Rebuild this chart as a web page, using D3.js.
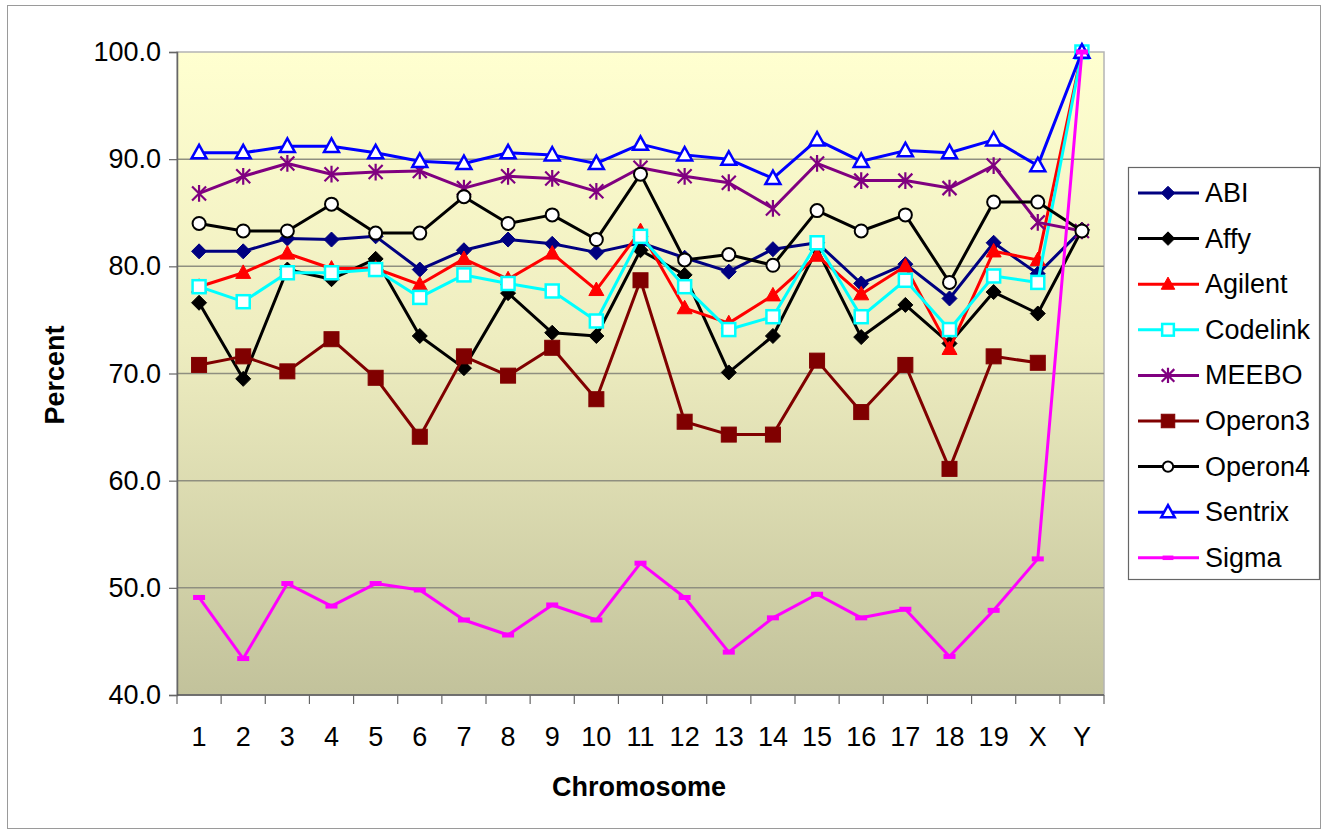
<!DOCTYPE html>
<html>
<head>
<meta charset="utf-8">
<script src="https://cdn.jsdelivr.net/npm/d3@7"></script>
<style>
  html, body { margin: 0; padding: 0; background: #fff; }
  svg { display: block; font-family: "Liberation Sans", Arial, sans-serif; }
</style>
</head>
<body>
<svg id="chart" width="1327" height="834"></svg>
<script>
// Chromosome categories
const chromosomes = ["1","2","3","4","5","6","7","8","9","10","11","12","13","14","15","16","17","18","19","X","Y"];

// Percent values per platform, one per chromosome (null = no value)
const ABI      = [81.4,81.4,82.6,82.5,82.8,79.7,81.5,82.5,82.1,81.3,82.2,80.8,79.5,81.6,82.2,78.4,80.2,77.0,82.2,79.3,83.4];
const Affy     = [76.6,69.5,79.7,78.8,80.7,73.5,70.5,77.5,73.8,73.5,81.5,79.2,70.1,73.5,81.6,73.4,76.4,72.8,77.6,75.6,83.4];
const Agilent  = [78.1,79.4,81.2,79.8,79.8,78.3,80.7,78.8,81.2,77.8,83.3,76.1,74.7,77.3,81.0,77.4,80.0,72.3,81.4,80.6,100.0];
const Codelink = [78.1,76.7,79.4,79.4,79.7,77.1,79.2,78.4,77.7,74.9,82.8,78.1,74.1,75.3,82.2,75.3,78.7,74.1,79.1,78.5,100.0];
const MEEBO    = [86.8,88.4,89.6,88.6,88.8,88.9,87.3,88.4,88.2,87.0,89.2,88.4,87.8,85.4,89.6,88.0,88.0,87.3,89.4,84.1,83.3];
const Operon3  = [70.8,71.6,70.2,73.2,69.6,64.1,71.6,69.8,72.4,67.6,78.7,65.5,64.3,64.3,71.2,66.4,70.8,61.1,71.6,71.0,null];
const Operon4  = [84.0,83.3,83.3,85.8,83.1,83.1,86.5,84.0,84.8,82.5,88.6,80.6,81.1,80.1,85.2,83.3,84.8,78.5,86.0,86.0,83.3];
const Sentrix  = [90.6,90.6,91.2,91.2,90.6,89.8,89.6,90.6,90.4,89.6,91.4,90.4,90.0,88.2,91.8,89.8,90.8,90.6,91.8,89.4,100.0];
const Sigma    = [49.1,43.4,50.4,48.3,50.4,49.8,47.0,45.6,48.4,47.0,52.3,49.1,44.0,47.2,49.4,47.2,48.0,43.6,47.9,52.7,100.0];

const yTicks = [40,50,60,70,80,90,100];

// Series styling: line colour, marker shape, marker fill/stroke
const series = [
  { name: "ABI",      values: ABI,      color: "#000080", marker: "diamond",  fill: "#000080" },
  { name: "Affy",     values: Affy,     color: "#000000", marker: "diamond",  fill: "#000000" },
  { name: "Agilent",  values: Agilent,  color: "#FF0000", marker: "triangle", fill: "#FF0000" },
  { name: "Codelink", values: Codelink, color: "#00FFFF", marker: "square",   fill: "#FFFFFF" },
  { name: "MEEBO",    values: MEEBO,    color: "#800080", marker: "star",     fill: "none" },
  { name: "Operon3",  values: Operon3,  color: "#800000", marker: "square",   fill: "#800000" },
  { name: "Operon4",  values: Operon4,  color: "#000000", marker: "circle",   fill: "#FFFFFF" },
  { name: "Sentrix",  values: Sentrix,  color: "#0000FF", marker: "triangle", fill: "#FFFFFF" },
  { name: "Sigma",    values: Sigma,    color: "#FF00FF", marker: "dash",     fill: "#FF00FF" }
];

const FONT = 27;
const svg = d3.select("#chart");
const plot = { left: 177, top: 52, right: 1104, bottom: 695 };

// Outer chart frame
svg.append("rect")
  .attr("x", 7.5).attr("y", 5.5).attr("width", 1313).attr("height", 823)
  .attr("fill", "#fff").attr("stroke", "#9a9a9a").attr("stroke-width", 1);

const x = d3.scaleBand().domain(chromosomes).range([plot.left, plot.right]).padding(0);
const y = d3.scaleLinear().domain([40, 100]).range([plot.bottom, plot.top]);

// Plot area gradient background
const defs = svg.append("defs");
const grad = defs.append("linearGradient").attr("id", "bg").attr("x1", 0).attr("y1", 0).attr("x2", 0).attr("y2", 1);
grad.append("stop").attr("offset", "0%").attr("stop-color", "#FFFFD0");
grad.append("stop").attr("offset", "45%").attr("stop-color", "#EEEDC0");
grad.append("stop").attr("offset", "100%").attr("stop-color", "#C2C29B");

svg.append("rect")
  .attr("x", plot.left).attr("y", plot.top)
  .attr("width", plot.right - plot.left).attr("height", plot.bottom - plot.top)
  .attr("fill", "url(#bg)").attr("stroke", "#b4b4b4").attr("stroke-width", 1.5);

// Horizontal gridlines
svg.append("g").selectAll("line")
  .data(yTicks.filter(t => t > 40 && t < 100))
  .join("line")
  .attr("x1", plot.left).attr("x2", plot.right)
  .attr("y1", d => y(d)).attr("y2", d => y(d))
  .attr("stroke", "#8f8f80").attr("stroke-width", 1.5);

// Y axis
const yAxis = svg.append("g")
  .attr("transform", `translate(${plot.left},0)`)
  .call(d3.axisLeft(y).tickValues(yTicks).tickSize(8).tickPadding(8).tickFormat(d3.format(".1f")));
yAxis.select(".domain").attr("stroke", "#666").attr("stroke-width", 1.5);
yAxis.selectAll(".tick line").attr("stroke", "#666").attr("stroke-width", 1.2);
yAxis.selectAll("text").attr("font-size", FONT).attr("fill", "#000")
  .attr("font-family", "'Liberation Sans', Arial, sans-serif");

// X axis: ticks between categories, labels centred on categories
const xAxisG = svg.append("g").attr("transform", `translate(0,${plot.bottom})`);
xAxisG.append("line")
  .attr("x1", plot.left).attr("x2", plot.right).attr("y1", 0).attr("y2", 0)
  .attr("stroke", "#555").attr("stroke-width", 1.5);
const boundaries = chromosomes.map(c => x(c)).concat([x(chromosomes[chromosomes.length - 1]) + x.bandwidth()]);
xAxisG.selectAll("line.tk").data(boundaries).join("line")
  .attr("class", "tk")
  .attr("x1", d => d).attr("x2", d => d).attr("y1", 0).attr("y2", 9)
  .attr("stroke", "#666").attr("stroke-width", 1.2);
xAxisG.selectAll("text").data(chromosomes).join("text")
  .attr("x", d => x(d) + x.bandwidth() / 2)
  .attr("y", 51)
  .attr("text-anchor", "middle")
  .attr("font-size", FONT).attr("fill", "#000")
  .text(d => d);

// Axis titles
svg.append("text")
  .attr("x", 639).attr("y", 796)
  .attr("text-anchor", "middle").attr("font-size", FONT).attr("font-weight", "bold")
  .text("Chromosome");
svg.append("text")
  .attr("transform", "translate(64,375) rotate(-90)")
  .attr("text-anchor", "middle").attr("font-size", FONT).attr("font-weight", "bold")
  .text("Percent");

// Marker drawing
function drawMarker(g, s, cx, cy, scale = 1) {
  const m = s.marker;
  if (m === "diamond") {
    const r = 7.5 * scale;
    g.append("path")
      .attr("d", `M${cx},${cy - r}L${cx + r},${cy}L${cx},${cy + r}L${cx - r},${cy}Z`)
      .attr("fill", s.fill).attr("stroke", s.color).attr("stroke-width", 1);
  } else if (m === "triangle") {
    const r = 7.5 * scale;
    const filled = s.fill !== "#FFFFFF";
    g.append("path")
      .attr("d", `M${cx},${cy - r * 1.05}L${cx + r},${cy + r * 0.75}L${cx - r},${cy + r * 0.75}Z`)
      .attr("fill", s.fill).attr("stroke", s.color).attr("stroke-width", filled ? 1 : 2.5)
      .attr("stroke-linejoin", "miter");
  } else if (m === "square") {
    const filled = s.fill !== "#FFFFFF";
    const r = (filled ? 7.5 : 6.5) * scale;
    g.append("rect")
      .attr("x", cx - r).attr("y", cy - r).attr("width", 2 * r).attr("height", 2 * r)
      .attr("fill", s.fill).attr("stroke", s.color).attr("stroke-width", filled ? 1 : 2.5);
  } else if (m === "circle") {
    g.append("circle")
      .attr("cx", cx).attr("cy", cy).attr("r", 6.5 * scale)
      .attr("fill", s.fill).attr("stroke", s.color).attr("stroke-width", 2);
  } else if (m === "star") {
    const r = 7 * scale;
    const d = `M${cx - r},${cy - r}L${cx + r},${cy + r}M${cx - r},${cy + r}L${cx + r},${cy - r}M${cx},${cy - r * 1.2}L${cx},${cy + r * 1.2}`;
    g.append("path").attr("d", d).attr("stroke", s.color).attr("stroke-width", 2.2).attr("fill", "none");
  } else if (m === "dash") {
    g.append("rect")
      .attr("x", cx - 6 * scale).attr("y", cy - 2.5 * scale)
      .attr("width", 12 * scale).attr("height", 5 * scale)
      .attr("fill", s.fill);
  }
}

const cxOf = c => x(c) + x.bandwidth() / 2;
const line = d3.line()
  .defined(d => d.v != null)
  .x(d => cxOf(d.c))
  .y(d => y(d.v));

const seriesG = svg.append("g");
series.forEach(s => {
  const g = seriesG.append("g");
  const pts = chromosomes.map((c, i) => ({ c, v: s.values[i] }));
  g.append("path")
    .attr("d", line(pts))
    .attr("fill", "none")
    .attr("stroke", s.color)
    .attr("stroke-width", 3)
    .attr("stroke-linejoin", "round");
  pts.filter(p => p.v != null).forEach(p => drawMarker(g, s, cxOf(p.c), y(p.v)));
});

// Legend
const legend = svg.append("g");
legend.append("rect")
  .attr("x", 1128.5).attr("y", 167.5).attr("width", 191).attr("height", 412)
  .attr("fill", "#fff").attr("stroke", "#666").attr("stroke-width", 1.2);
series.forEach((s, i) => {
  const ly = 193 + i * 45.6;
  const g = legend.append("g");
  g.append("line")
    .attr("x1", 1138).attr("x2", 1199).attr("y1", ly).attr("y2", ly)
    .attr("stroke", s.color).attr("stroke-width", 3);
  drawMarker(g, s, 1168, ly, s.marker === "circle" ? 0.8 : 0.9);
  g.append("text")
    .attr("x", 1205).attr("y", ly + 9)
    .attr("font-size", FONT).attr("fill", "#000")
    .text(s.name);
});
</script>
</body>
</html>
